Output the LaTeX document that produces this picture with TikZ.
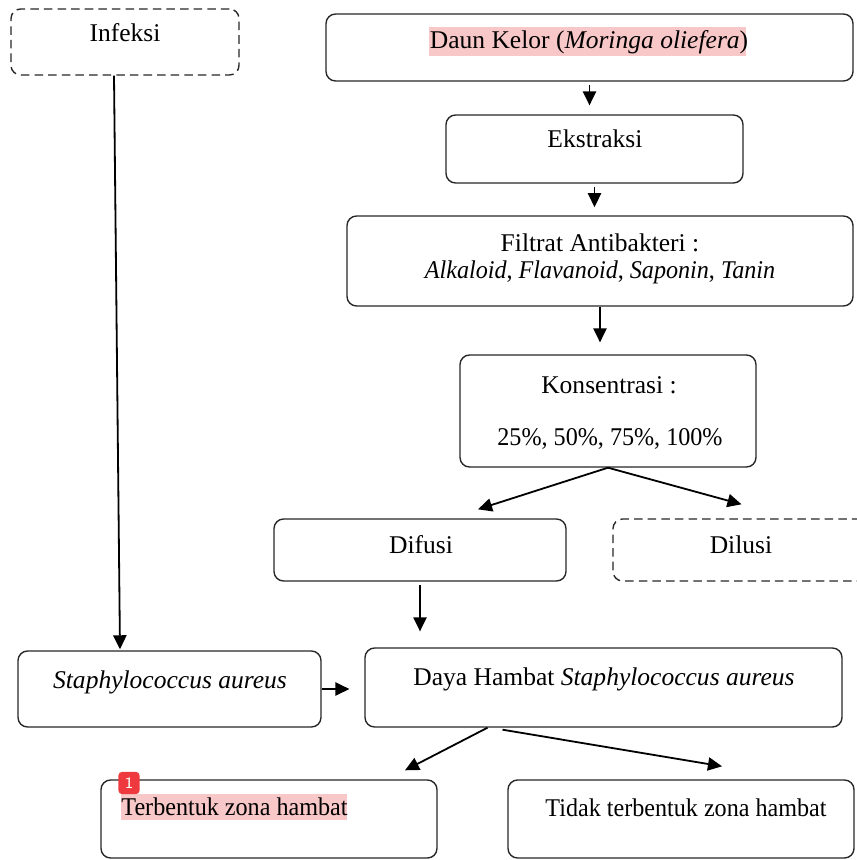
\documentclass[tikz,border=0pt]{standalone}
\usepackage{fontspec}
\usepackage{graphicx}
\setmainfont{Liberation Serif}
\usetikzlibrary{arrows.meta,calc,fit}

\definecolor{hlpink}{HTML}{F8C8C8}
\definecolor{badgered}{HTML}{EE3A3F}

% slightly narrower text, as in the bottom rows
\newcommand{\narrow}[1]{\scalebox{0.945}[1]{#1}}

\tikzset{
    box/.style={draw=black!85, line width=0.65pt, rounded corners=4.5pt, inner sep=0pt},
    dashbox/.style={box, dash pattern=on 4pt off 2.4pt},
    txt/.style={anchor=base, inner sep=0pt, font=\fontsize{12}{14}\selectfont},
    arr/.style={-{Triangle[length=6.6pt,width=6.2pt]}, line width=0.85pt},
    badge/.style={fill=badgered, text=white, rounded corners=1.8pt, minimum width=10pt,
        minimum height=10.5pt, inner sep=0pt, font=\sffamily\fontsize{7.5}{8}\selectfont},
}

\begin{document}
\begin{tikzpicture}[x=0.47pt, y=-0.47pt]
    \useasboundingbox (0,0) rectangle (856,860);
    % highlights
    \fill[hlpink] (429,27) rectangle (746,56);
    \fill[hlpink] (121,794) rectangle (347,820);

    % boxes
    \node[dashbox, fit={(11,9) (239,75)}] (infeksi) {};
    \node[box, fit={(326,14) (853,81)}] (daun) {};
    \node[box, fit={(446,115) (743,183)}] (ekstraksi) {};
    \node[box, fit={(347,216) (853,306)}] (filtrat) {};
    \node[box, fit={(460,355) (756,467)}] (konsentrasi) {};
    \node[box, fit={(274,519) (566,581)}] (difusi) {};
    \node[dashbox, fit={(613,519) (870,581)}] (dilusi) {};
    \node[box, fit={(18,651) (321,727)}] (staph) {};
    \node[box, fit={(365,648) (842,727)}] (daya) {};
    \node[box, fit={(101,780) (437,858)}] (terbentuk) {};
    \node[box, fit={(508,780) (854,858)}] (tidak) {};

    % texts
    \node[txt] (infeksi-t) at (125,42) {Infeksi};
    \node[txt] (daun-t) at (589,49) {Daun Kelor (\textit{Moringa oliefera})};
    \node[txt] (ekstraksi-t) at (595,148) {Ekstraksi};
    \node[txt] (filtrat-t1) at (600,251) {Filtrat Antibakteri :};
    \node[txt] (filtrat-t2) at (600,278) {\narrow{\textit{Alkaloid}, \textit{Flavanoid}, \textit{Saponin}, \textit{Tanin}}};
    \node[txt] (konsentrasi-t1) at (609,393) {Konsentrasi :};
    \node[txt] (konsentrasi-t2) at (610,445) {\narrow{25\%, 50\%, 75\%, 100\%}};
    \node[txt] (difusi-t) at (421,553) {Difusi};
    \node[txt] (dilusi-t) at (741,553) {Dilusi};
    \node[txt] (staph-t) at (170,688) {\textit{Staphylococcus aureus}};
    \node[txt] (daya-t) at (604,685) {Daya Hambat \textit{Staphylococcus aureus}};
    \node[txt, anchor=base west] (terbentuk-t) at (121,815) {\narrow{Terbentuk zona hambat}};
    \node[txt] (tidak-t) at (686,816) {\narrow{Tidak terbentuk zona hambat}};
    \node[badge] (tanda) at (129,783) {1};

    % arrows
    \draw[arr] ($(infeksi.south)+(-11,0)$) -- ($(staph.north)+(-49.5,-1)$);
    \draw[arr, shorten <=1.4pt, shorten >=4.2pt] (daun.south) -- (daun.south |- ekstraksi.north);
    \draw[arr, shorten <=1.4pt, shorten >=3.8pt] (ekstraksi.south) -- (ekstraksi.south |- filtrat.north);
    \draw[arr, shorten >=5.6pt] (filtrat.south) -- (filtrat.south |- konsentrasi.north);
    \draw[arr] (konsentrasi.south) -- ($(difusi.north)+(58,-9)$);
    \draw[arr] (konsentrasi.south) -- ($(dilusi.north)+(0,-14)$);
    \draw[arr, shorten <=1.4pt, shorten >=7.5pt] (difusi.south) -- (difusi.south |- daya.north);
    \draw[arr, shorten >=7pt] (staph.east) -- (staph.east -| daya.west);
    \draw[arr] ($(daya.south)+(-116,0)$) -- ($(terbentuk.north)+(136,-9)$);
    \draw[arr] ($(daya.south)+(-101,2)$) -- ($(tidak.north)+(41,-13)$);
\end{tikzpicture}
\end{document}
